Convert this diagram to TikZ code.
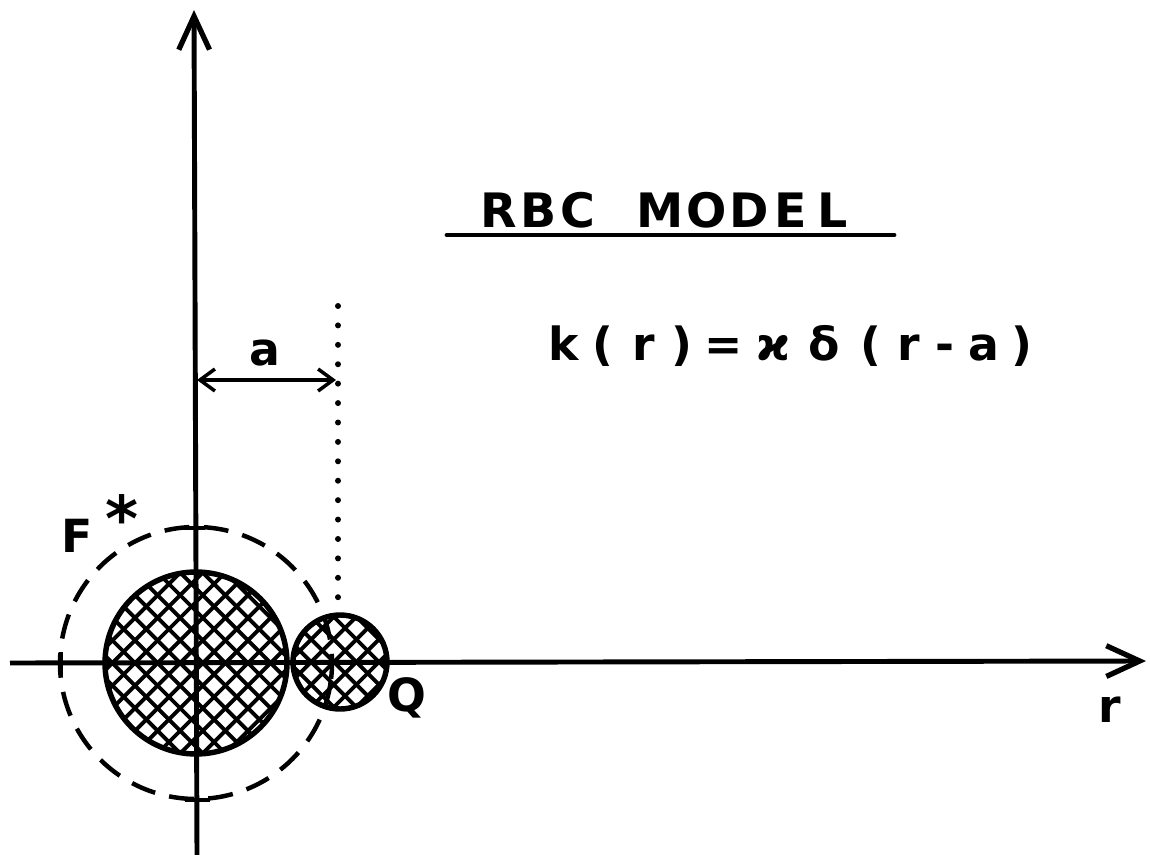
\documentclass[tikz,border=0pt]{standalone}
\usepackage{fontspec}
\setmainfont{DejaVu Sans}
\newfontfamily\plotfont{DejaVu Sans Bold}
\usetikzlibrary{arrows.meta}
\newdimen\pxu \pxu=0.02cm
\newcommand\gl[2]{\makebox[#1\pxu][c]{#2}}
\tikzset{
  axis/.style={line width=2.8pt, -{Straight Barb[length=19pt,width=17.5pt,line width=3pt]}},
  ticks/.style={line width=2.8pt},
  hatch/.style={line width=2.2pt},
  rim/.style={line width=3.1pt},
  dashring/.style={line width=2.55pt, dash pattern=on 14.2pt off 8.2pt},
  dotline/.style={line width=3.4pt, line cap=round, dash pattern=on 0pt off 11.05pt},
  dim/.style={line width=2pt, {Straight Barb[length=8.5pt,width=12.5pt,line width=2pt]}-{Straight Barb[length=8.5pt,width=12.5pt,line width=2pt]}},
  lbl/.style={font=\plotfont\fontsize{26pt}{30pt}\selectfont, inner sep=0pt},
}
\begin{document}
\begin{tikzpicture}[x=0.02cm, y=-0.02cm]
\useasboundingbox (0,0) rectangle (1150,855);
% coordinates
\coordinate (O) at (196,663);
\coordinate (ybot) at (197,855);
\coordinate (ytop) at (194,10);
\coordinate (xleft) at (10,663);
\coordinate (xright) at (1146,661);
\coordinate (S) at (340,662);
% hatched big circle
\begin{scope}
  \clip (O) circle (91);
  \foreach \i in {-400,-377.4,...,400} {
    \draw[hatch] ([shift={(\i-150,-150)}]O) -- ([shift={(\i+150,150)}]O);
    \draw[hatch] ([shift={(\i-150,150)}]O) -- ([shift={(\i+150,-150)}]O);
  }
\end{scope}
\draw[rim] (O) circle (91);
% hatched small circle
\begin{scope}
  \clip (S) circle (47);
  \foreach \i in {-300,-277.4,...,300} {
    \draw[hatch] ([shift={(\i-100,-100)}]S) -- ([shift={(\i+100,100)}]S);
    \draw[hatch] ([shift={(\i-100,100)}]S) -- ([shift={(\i+100,-100)}]S);
  }
\end{scope}
\draw[rim] (S) circle (47);
% dashed F* circle
\draw[dashring, rotate around={-8:(O)}] (O) circle (136);
% axes
\draw[axis] (ybot) -- (ytop);
\draw[axis] (xleft) -- (xright);
% ticks
\coordinate (t1a) at (180,528); \coordinate (t1b) at (205,528);
\coordinate (t2a) at (185,800); \coordinate (t2b) at (210,800);
\coordinate (t3a) at (61,652); \coordinate (t3b) at (61,677);
\draw[ticks] (t1a) -- (t1b);
\draw[ticks] (t2a) -- (t2b);
\draw[ticks] (t3a) -- (t3b);
% dotted line
\coordinate (d1) at (338,306); \coordinate (d2) at (338,610);
\draw[dotline] (d1) -- (d2);
% dimension a
\coordinate (a1) at (197,380); \coordinate (a2) at (336,380);
\draw[dim] (a1) -- (a2);
\node[lbl, anchor=base] (la) at (265,365) {a};
% labels
\node[lbl, anchor=base] (lF) at (77,552) {F};
\node[lbl, font=\plotfont\fontsize{36pt}{36pt}\selectfont] (lstar) at (122,518) {*};
\node[lbl, anchor=base] (lQ) at (407,711) {Q};
\node[lbl, anchor=base] (lr) at (1110,722) {r};
% title
\node[lbl, anchor=base west, font=\plotfont\fontsize{27pt}{30pt}\selectfont] (title) at (478,227)
  {\gl{40}{R}\gl{40}{B}\gl{40}{C}\gl{38}{ }\gl{48}{M}\gl{44.5}{O}\gl{41}{D}\gl{41}{E}\gl{44}{L}};
\coordinate (u1) at (447,235); \coordinate (u2) at (894,235);
\draw[line width=2.8pt, line cap=round] (u1) -- (u2);
% formula
\node[lbl, anchor=base west] (formula) at (545,360)
  {\gl{37}{k}\gl{41}{(}\gl{41}{r}\gl{36}{)}\gl{46.5}{=}\gl{52.5}{ϰ}\gl{50}{δ}\gl{43}{(}\gl{33}{r}\gl{38.5}{-}\gl{40}{a}\gl{36}{)}};
\end{tikzpicture}
\end{document}
